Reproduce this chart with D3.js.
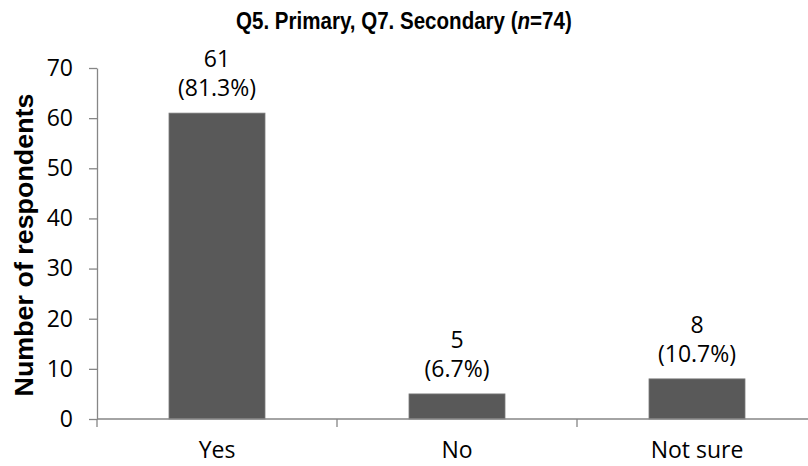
<!DOCTYPE html>
<html>
<head>
<meta charset="utf-8">
<script src="https://cdn.jsdelivr.net/npm/d3@7"></script>
<style>
  html, body { margin: 0; padding: 0; background: #fff; }
  svg { display: block; }
</style>
</head>
<body>
<svg id="chart" width="808" height="466"></svg>
<script>
// Survey answers and counts
const categories = ["Yes", "No", "Not sure"];
const counts = [61, 5, 8];
const percents = ["81.3%", "6.7%", "10.7%"];
const yTicks = [0, 10, 20, 30, 40, 50, 60, 70];
const titleText = "Q5. Primary, Q7. Secondary (";
const yLabel = "Number of respondents";

const svg = d3.select("#chart");
const plot = { left: 97, right: 817, top: 68, bottom: 419 };

const x = d3.scaleBand()
  .domain(categories)
  .range([plot.left, plot.right])
  .paddingInner(0.6)
  .paddingOuter(0.3);

const y = d3.scaleLinear().domain([0, 70]).range([plot.bottom, plot.top]);

const axisColor = "#868686";
const labelFont = "'Open Sans', 'DejaVu Sans', sans-serif";
const labelSize = 23;

// Title: condensed bold, squeezed horizontally to its target width
const titleWidth = 336;
const titleG = svg.append("g");
const title = titleG.append("text")
  .attr("x", 0).attr("y", 0)
  .attr("text-anchor", "start")
  .attr("font-family", "'Liberation Sans', Arial, sans-serif")
  .attr("font-weight", "bold")
  .attr("font-size", 23)
  .attr("fill", "#000");
title.append("tspan").text(titleText);
title.append("tspan").attr("font-style", "italic").text("n");
title.append("tspan").text("=74)");
const naturalW = title.node().getComputedTextLength();
const sx = titleWidth / naturalW;
titleG.attr("transform", `translate(${404 - titleWidth / 2},29) scale(${sx},1)`);

// Y axis title
svg.append("text")
  .attr("transform", "translate(33,245) rotate(-90)")
  .attr("text-anchor", "middle")
  .attr("font-family", "'Liberation Sans', Arial, sans-serif")
  .attr("font-weight", "bold")
  .attr("font-size", 26)
  .attr("fill", "#000")
  .attr("textLength", 303)
  .attr("lengthAdjust", "spacingAndGlyphs")
  .text(yLabel);

// Y axis
const yAxis = svg.append("g")
  .attr("transform", `translate(${plot.left},0)`)
  .call(d3.axisLeft(y).tickValues(yTicks).tickSize(8).tickPadding(16).tickSizeOuter(0));
yAxis.select(".domain").attr("stroke", axisColor).attr("stroke-width", 1.3);
yAxis.selectAll(".tick line").attr("stroke", axisColor).attr("stroke-width", 1.3);
yAxis.selectAll(".tick text")
  .attr("font-family", labelFont)
  .attr("font-size", labelSize)
  .attr("fill", "#000");

// Bars
svg.append("g").selectAll("rect")
  .data(categories)
  .join("rect")
  .attr("x", d => x(d))
  .attr("width", x.bandwidth())
  .attr("y", (d, i) => y(counts[i]))
  .attr("height", (d, i) => y(0) - y(counts[i]))
  .attr("fill", "#595959")
  .attr("stroke", "#7a7a7a")
  .attr("stroke-width", 0.8);

// X axis with ticks between categories
const boundaries = d3.range(categories.length + 1).map(i => plot.left + i * (plot.right - plot.left) / categories.length);
const xAxis = svg.append("g");
xAxis.append("line")
  .attr("x1", plot.left).attr("x2", plot.right)
  .attr("y1", y(0)).attr("y2", y(0))
  .attr("stroke", axisColor).attr("stroke-width", 1.3);
xAxis.selectAll("line.tick")
  .data(boundaries)
  .join("line")
  .attr("class", "tick")
  .attr("x1", d => d).attr("x2", d => d)
  .attr("y1", y(0)).attr("y2", y(0) + 8)
  .attr("stroke", axisColor).attr("stroke-width", 1.3);
xAxis.selectAll("text")
  .data(categories)
  .join("text")
  .attr("x", d => x(d) + x.bandwidth() / 2)
  .attr("y", 458)
  .attr("text-anchor", "middle")
  .attr("font-family", labelFont)
  .attr("font-size", labelSize)
  .attr("fill", "#000")
  .text(d => d);

// Value labels: count on first line, percentage below
const labels = svg.append("g").selectAll("text")
  .data(categories)
  .join("text")
  .attr("text-anchor", "middle")
  .attr("font-family", labelFont)
  .attr("font-size", labelSize)
  .attr("fill", "#000");
labels.append("tspan")
  .attr("x", d => x(d) + x.bandwidth() / 2)
  .attr("y", (d, i) => y(counts[i]) - 46)
  .text((d, i) => counts[i]);
labels.append("tspan")
  .attr("x", d => x(d) + x.bandwidth() / 2)
  .attr("y", (d, i) => y(counts[i]) - 17)
  .text((d, i) => `(${percents[i]})`);
</script>
</body>
</html>
